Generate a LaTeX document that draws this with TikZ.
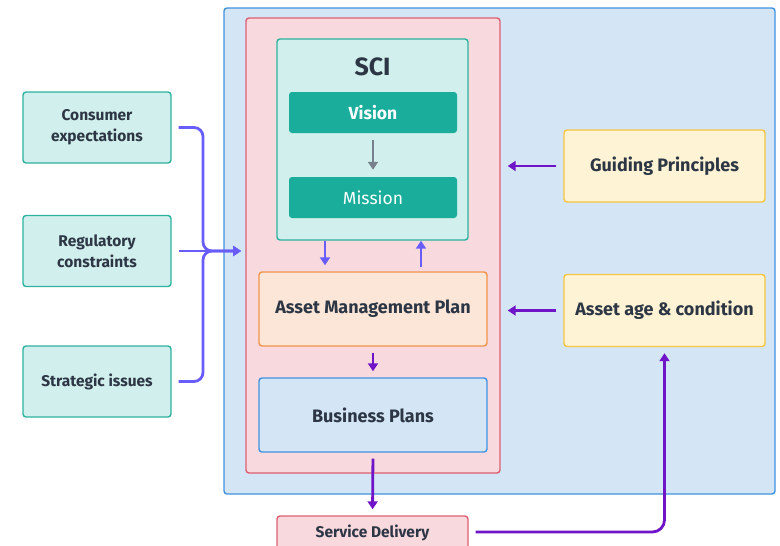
\documentclass[tikz,border=0pt]{standalone}
\usepackage{fontspec}
\setmainfont{Fira Sans}
\usetikzlibrary{positioning,arrows.meta,calc}
\definecolor{Ink}{RGB}{44,54,68}
\definecolor{Teal}{RGB}{26,173,155}
\definecolor{TealLine}{RGB}{44,178,158}
\definecolor{TealLight}{RGB}{209,239,236}
\definecolor{Rose}{RGB}{248,218,222}
\definecolor{RoseLine}{RGB}{221,96,114}
\definecolor{Sky}{RGB}{212,229,245}
\definecolor{SkyLine}{RGB}{66,146,222}
\definecolor{Peach}{RGB}{251,230,215}
\definecolor{PeachLine}{RGB}{240,148,76}
\definecolor{Cream}{RGB}{254,243,212}
\definecolor{CreamLine}{RGB}{246,198,64}
\definecolor{Violet}{RGB}{104,92,250}
\definecolor{Purple}{RGB}{112,20,200}
\definecolor{Slate}{RGB}{120,128,140}

\begin{document}
\begin{tikzpicture}[x=1pt,y=-1pt,
 box/.style={rounded corners=3pt,line width=1.4pt,inner sep=2pt,align=center,text=Ink,font=\bfseries},
 side/.style={box,draw=TealLine,fill=TealLight,minimum width=148pt,minimum height=71pt,font=\fontsize{15.5}{21}\selectfont\bfseries},
 note/.style={box,draw=CreamLine,fill=Cream,minimum width=201pt,minimum height=72pt,font=\fontsize{18}{21}\selectfont\bfseries},
 plan/.style={box,minimum width=228pt,minimum height=74pt,font=\fontsize{18}{21}\selectfont\bfseries},
 solid/.style={rounded corners=3pt,draw=none,fill=Teal,text=white,minimum width=168pt,minimum height=41pt,font=\fontsize{17.5}{21}\selectfont},
 feed/.style={-{Triangle[length=8pt,width=10pt]},line width=2.8pt,Violet},
 flow/.style={-{Triangle[length=8pt,width=10pt]},line width=2.8pt,Purple}]
\useasboundingbox (0,0) rectangle (780,546);
% panels
\node[box,draw=SkyLine,fill=Sky,minimum width=551pt,minimum height=486pt] (outer) at (499.5,251) {};
\node[box,draw=RoseLine,fill=Rose,minimum width=254pt,minimum height=455pt] (pink) at (373,245.5) {};
\node[box,draw=TealLine,fill=TealLight,minimum width=191pt,minimum height=201pt] (sci) at (372.5,139.5) {};
\node[text=Ink,font=\fontsize{25}{28}\selectfont\bfseries] (scit) at (372.5,67) {SCI};
\node[solid,font=\fontsize{17.5}{21}\selectfont\bfseries] (vis) at (373,112.5) {Vision};
\node[solid] (mis) at (373,197.5) {Mission};
\node[plan,draw=PeachLine,fill=Peach] (amp) at (373,309) {Asset Management Plan};
\node[plan,draw=SkyLine,fill=Sky] (bp) at (373,415) {Business Plans};
\node[box,draw=RoseLine,fill=Rose,minimum width=191pt,minimum height=40pt,font=\fontsize{15.5}{19}\selectfont\bfseries,text height=10pt,text depth=8pt] (sd) at (372.5,536) {Service Delivery};
% inputs
\node[side] (cons) at (97,127.5) {Consumer\\expectations};
\node[side] (reg) at (97,251) {Regulatory\\constraints};
\node[side] (strat) at (97,381.5) {Strategic issues};
\node[note] (gp) at (664.5,166) {Guiding Principles};
\node[note] (age) at (664.5,310.5) {Asset age \& condition};
\coordinate (bend) at (203,251);
\coordinate (join) at (241,251);
% connectors
\draw[feed,rounded corners=9pt,shorten <=7pt] (cons.east) -| (bend) -- (join);
\draw[feed,rounded corners=9pt,shorten <=7pt] (strat.east) -| (bend) -- (join);
\draw[feed,shorten <=7pt] (reg.east) -- (join);
\draw[-{Triangle[length=8pt,width=10pt]},line width=2.8pt,Slate,shorten <=7pt,shorten >=7pt] (vis.south) -- (mis.north);
\draw[feed,shorten >=6pt] ([xshift=-47.5pt]sci.south) -- ([xshift=-48pt]amp.north);
\draw[feed,shorten <=4pt] ([xshift=48pt]amp.north) -- ([xshift=48.5pt]sci.south);
\draw[flow,shorten <=6pt,shorten >=6pt] (amp.south) -- (bp.north);
\draw[flow,shorten <=6pt,shorten >=6pt] (bp.south) -- (sd.north);
\draw[flow,shorten <=7pt,shorten >=7pt] (gp.west) -- (gp.west -| pink.east);
\draw[flow,shorten <=7pt,shorten >=7pt] (age.west) -- (age.west -| pink.east);
\draw[flow,rounded corners=12pt,shorten <=7pt,shorten >=6pt] ([yshift=4pt]sd.east) -| (age.south);
\end{tikzpicture}
\end{document}
